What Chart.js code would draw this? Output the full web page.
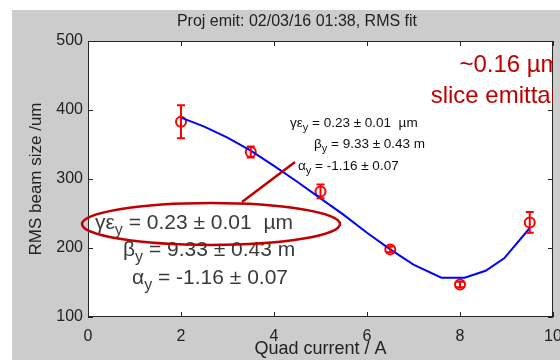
<!DOCTYPE html>
<html>
<head>
<meta charset="utf-8">
<script src="https://cdn.jsdelivr.net/npm/chart.js@4.4.1/dist/chart.umd.min.js"></script>
<style>
  html, body { margin: 0; padding: 0; background: #fff; }
  #wrap { width: 560px; height: 360px; }
</style>
</head>
<body>
<div id="wrap"><canvas id="emitChart" width="560" height="360"></canvas></div>
<script>
// --- Measured beam sizes (quad scan) ---
const quadCurrent = [2, 3.5, 5, 6.5, 8, 9.5];
const beamSize = [383, 339, 282, 198, 147, 237];
const beamErr = [24, 8, 10, 4, 4, 15];

// --- RMS fit curve ---
const fitCurrent = [2, 2.5, 3, 3.5, 4, 4.5, 5, 5.5, 6, 6.5, 7, 7.6, 8.1, 8.55, 8.95, 9.5];
const fitSize = [389, 376, 360, 341, 319, 296, 272, 248, 222, 198, 176, 157, 157, 167, 185, 229];

// --- Axis ticks ---
const xTicks = [0, 2, 4, 6, 8, 10];
const yTicks = [100, 200, 300, 400, 500];

// --- Fit results text ---
const fitLines = [
  { sym: "γε", sub: "y", rest: " = 0.23 ± 0.01  µm" },
  { sym: "β", sub: "y", rest: " = 9.33 ± 0.43 m" },
  { sym: "α", sub: "y", rest: " = -1.16 ± 0.07" },
];
const sliceNote = ["~0.16 µm", "slice emittance"];

const FONT = '"Liberation Sans", Arial, Helvetica, sans-serif';

// draws e.g. "βy = ..." with the y lowered and smaller
const drawSubText = (ctx, line, x, y, size) => {
  ctx.font = `${size}px ${FONT}`;
  ctx.fillText(line.sym, x, y);
  let cx = x + ctx.measureText(line.sym).width;
  ctx.font = `${Math.round(size * 0.78)}px ${FONT}`;
  ctx.fillText(line.sub, cx, y + size * 0.3);
  cx += ctx.measureText(line.sub).width;
  ctx.font = `${size}px ${FONT}`;
  ctx.fillText(line.rest, cx, y);
};

// --- Figure background + white axes box ---
const backdrop = {
  id: "backdrop",
  beforeDraw(chart) {
    const { ctx, chartArea: a } = chart;
    ctx.save();
    ctx.fillStyle = "#ffffff";
    ctx.fillRect(0, 0, chart.width, chart.height);
    ctx.fillStyle = "#cccccc";
    ctx.fillRect(12, 10, chart.width - 12, chart.height - 10);
    ctx.fillStyle = "#ffffff";
    ctx.fillRect(a.left, a.top, a.right - a.left, a.bottom - a.top);
    ctx.restore();
  },
};

// --- Error bars on the measured points ---
const errorBars = {
  id: "errorBars",
  afterDatasetsDraw(chart) {
    const { ctx, scales } = chart;
    ctx.save();
    ctx.strokeStyle = "#ff0000";
    ctx.lineWidth = 2;
    quadCurrent.forEach((q, i) => {
      const px = scales.x.getPixelForValue(q);
      const top = scales.y.getPixelForValue(beamSize[i] + beamErr[i]);
      const bot = scales.y.getPixelForValue(beamSize[i] - beamErr[i]);
      ctx.beginPath();
      ctx.moveTo(px, top);
      ctx.lineTo(px, bot);
      ctx.moveTo(px - 4, top);
      ctx.lineTo(px + 4, top);
      ctx.moveTo(px - 4, bot);
      ctx.lineTo(px + 4, bot);
      ctx.stroke();
    });
    ctx.restore();
  },
};

// --- Box frame with inward ticks on all four sides, plus callouts ---
const frameAndNotes = {
  id: "frameAndNotes",
  afterDraw(chart) {
    const { ctx, chartArea: a, scales } = chart;
    ctx.save();
    ctx.strokeStyle = "#262626";
    ctx.lineWidth = 1;
    ctx.strokeRect(a.left + 0.5, a.top + 0.5, a.right - a.left - 1, a.bottom - a.top - 1);
    ctx.beginPath();
    xTicks.forEach((v) => {
      const px = Math.round(scales.x.getPixelForValue(v)) + 0.5;
      ctx.moveTo(px, a.bottom);
      ctx.lineTo(px, a.bottom - 5);
      ctx.moveTo(px, a.top);
      ctx.lineTo(px, a.top + 5);
    });
    yTicks.forEach((v) => {
      const py = Math.round(scales.y.getPixelForValue(v)) + 0.5;
      ctx.moveTo(a.left, py);
      ctx.lineTo(a.left + 5, py);
      ctx.moveTo(a.right, py);
      ctx.lineTo(a.right - 5, py);
    });
    ctx.stroke();

    // title
    ctx.fillStyle = "#222";
    ctx.font = `16px ${FONT}`;
    ctx.textAlign = "center";
    ctx.textBaseline = "alphabetic";
    ctx.fillText("Proj emit: 02/03/16 01:38, RMS fit", 297, 26);

    // fit results, small
    ctx.textAlign = "left";
    ctx.fillStyle = "#111";
    const smallX = [290, 314, 298];
    const smallY = [127, 148, 170];
    fitLines.forEach((ln, i) => drawSubText(ctx, ln, smallX[i], smallY[i], 13.5));

    // fit results, enlarged copy
    ctx.save();
    ctx.filter = "blur(0.6px)";
    ctx.fillStyle = "#3a3a3a";
    const bigX = [95, 123, 132];
    const bigY = [229, 256, 284];
    fitLines.forEach((ln, i) => drawSubText(ctx, ln, bigX[i], bigY[i], 21));
    ctx.restore();

    // callout ellipse + pointer
    ctx.strokeStyle = "#c00000";
    ctx.lineWidth = 2.5;
    ctx.beginPath();
    ctx.ellipse(211, 224, 129, 21, 0, 0, Math.PI * 2);
    ctx.stroke();
    ctx.beginPath();
    ctx.moveTo(242, 202);
    ctx.lineTo(295, 162);
    ctx.stroke();

    // slice emittance note, cut at the axes edge
    ctx.save();
    ctx.beginPath();
    ctx.rect(0, 0, a.right, chart.height);
    ctx.clip();
    ctx.fillStyle = "#c00000";
    ctx.font = `24px ${FONT}`;
    ctx.textAlign = "center";
    ctx.fillText(sliceNote[0], 510, 72);
    ctx.fillText(sliceNote[1], 510, 103);
    ctx.restore();

    ctx.restore();
  },
};

const ctx = document.getElementById("emitChart").getContext("2d");

new Chart(ctx, {
  type: "scatter",
  data: {
    datasets: [
      {
        label: "RMS fit",
        data: fitCurrent.map((q, i) => ({ x: q, y: fitSize[i] })),
        showLine: true,
        borderColor: "#0000ff",
        borderWidth: 2,
        pointRadius: 0,
        tension: 0,
      },
      {
        label: "Measured",
        data: quadCurrent.map((q, i) => ({ x: q, y: beamSize[i] })),
        showLine: false,
        pointStyle: "circle",
        pointRadius: 5,
        pointBorderWidth: 2,
        pointBorderColor: "#ff0000",
        pointBackgroundColor: "rgba(0,0,0,0)",
      },
    ],
  },
  options: {
    responsive: false,
    animation: false,
    layout: { padding: { left: 0, right: 7, top: 41, bottom: 0 } },
    plugins: {
      legend: { display: false },
      tooltip: { enabled: false },
    },
    scales: {
      x: {
        type: "linear",
        min: 0,
        max: 10,
        afterBuildTicks: (s) => { s.ticks = xTicks.map((v) => ({ value: v })); },
        afterFit: (s) => { s.height = 43; s.paddingLeft = 0; s.paddingRight = 0; },
        grid: { display: false },
        border: { display: false },
        ticks: { color: "#222", font: { family: FONT, size: 16 }, padding: 2, maxRotation: 0 },
        title: {
          display: true,
          text: "Quad current / A",
          color: "#222",
          font: { family: FONT, size: 18 },
          padding: 0,
        },
      },
      y: {
        type: "linear",
        min: 100,
        max: 500,
        afterBuildTicks: (s) => { s.ticks = yTicks.map((v) => ({ value: v })); },
        afterFit: (s) => { s.width = 88; s.paddingTop = 0; s.paddingBottom = 0; },
        grid: { display: false },
        border: { display: false },
        ticks: { color: "#222", font: { family: FONT, size: 16 }, padding: -3 },
        title: {
          display: true,
          text: "RMS beam size /um",
          color: "#222",
          font: { family: FONT, size: 17 },
          padding: { top: 26, bottom: 0 },
        },
      },
    },
  },
  plugins: [backdrop, errorBars, frameAndNotes],
});
</script>
</body>
</html>
